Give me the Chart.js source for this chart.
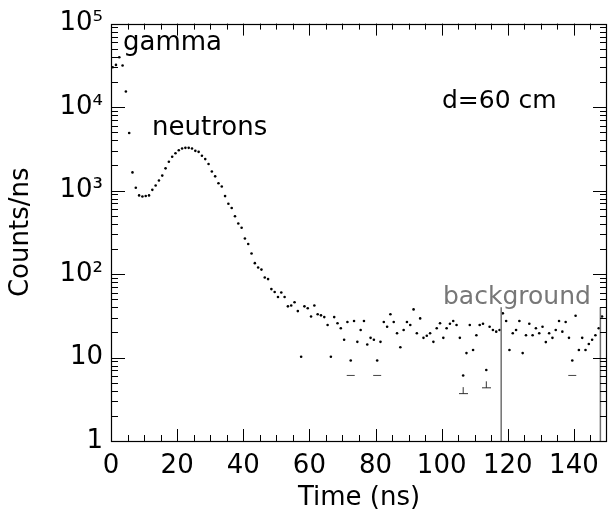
<!DOCTYPE html>
<html>
<head>
<meta charset="utf-8">
<title>Counts/ns vs time, d=60 cm</title>
<script src="https://cdn.jsdelivr.net/npm/chart.js@4.4.1/dist/chart.umd.min.js"></script>
<style>
  html, body { margin: 0; padding: 0; background: #fff; }
  canvas { display: block; }
</style>
</head>
<body>
<canvas id="tof" width="612" height="521"></canvas>
<script>
// counts per ns, one value per 1 ns bin starting at t = 0
const counts = [
  30000, 32000, 39500, 31500, 15400, 4900, 1650, 1080, 875, 850,
  860, 875, 1020, 1150, 1320, 1510, 1845, 2215, 2540, 2800,
  3040, 3190, 3250, 3250, 3190, 2990, 2910, 2610, 2380, 2080,
  1690, 1480, 1225, 1120, 858, 695, 618, 492, 403, 358,
  267, 229, 176, 135, 120, 113, 91, 87, 66, 61,
  53, 60, 53, 41, 42, 46, 36, 10.2, 41, 39,
  31, 42, 33, 32, 30.5, 24.5, 10.2, 30.5, 25.7, 22.4,
  16.3, 26.6, 9.2, 27.4, 15.4, 21.4, 27.4, 14.3, 17.2, 16.3,
  9.2, 15.4, 26.6, 23.4, 33, 26.6, 19.5, 13.3, 21.4, 26.6,
  24.5, 37.7, 19.5, 29.4, 17.2, 18.2, 19.5, 15.4, 22.4, 25.7,
  17.2, 22.4, 25.4, 27.4, 24.5, 17.2, 6.1, 11.3, 24.5, 12.3,
  18.5, 24.5, 25.4, 7.1, 23.4, 21.4, 20.4, 21.4, 33.8, 27.4,
  12.3, 19.5, 21.4, 27.4, 11.3, 18.5, 25.4, 18.5, 22.4, 19.5,
  23.4, 15.3, 19.5, 17.2, 21.4, 27.4, 20.4, 26.6, 17.2, 9.2,
  31.6, 12.3, 17.2, 12.3, 14.5, 16.3, 18.5, 22.4, 31
];
const binCenters = counts.map((c, i) => i + 0.5);

// lower error bar ends that show in the figure
const capTimes = [72.5, 80.5, 139.5];
const capLow = [6.1, 6.1, 6.1];
const stemTimes = [106.5, 113.5];
const stemLow = [3.75, 4.4];

// background window
const bgEdges = [118, 148];
const bgTop = 40;

const xTicks = [0, 20, 40, 60, 80, 100, 120, 140];
const yDecades = [1, 10, 100, 1000, 10000, 100000];
const yTickLabels = ['1', '10', '10\u00b2', '10\u00b3', '10\u2074', '10\u2075'];

const FONT = 'DejaVu Sans';

// little "⊥" mark for the error ends with a stem
function makeStemMark() {
  const c = document.createElement('canvas');
  c.width = 9; c.height = 14;
  const g = c.getContext('2d');
  g.fillStyle = '#333';
  g.fillRect(0, 7, 9, 1);
  g.fillRect(4, 1, 1, 7);
  return c;
}

const frame = {
  id: 'frame',
  afterDatasetsDraw(chart) {
    const { ctx, chartArea: a, scales } = chart;
    const x = scales.x, y = scales.y;
    ctx.save();
    ctx.strokeStyle = '#000';
    ctx.lineWidth = 1;
    ctx.beginPath();
    for (let t = 5; t < 150; t += 5) {
      const px = Math.round(x.getPixelForValue(t)) + 0.5;
      const len = t % 20 === 0 ? 12 : 6;
      ctx.moveTo(px, a.bottom); ctx.lineTo(px, a.bottom - len);
      ctx.moveTo(px, a.top); ctx.lineTo(px, a.top + len);
    }
    for (let d = 1; d < 100000; d *= 10) {
      for (let m = 1; m <= 9; m++) {
        if (d === 1 && m === 1) continue;
        const py = Math.round(y.getPixelForValue(d * m)) + 0.5;
        const len = m === 1 ? 14 : 7;
        ctx.moveTo(a.left, py); ctx.lineTo(a.left + len, py);
        ctx.moveTo(a.right, py); ctx.lineTo(a.right - len, py);
      }
    }
    ctx.stroke();
    ctx.lineWidth = 1.2;
    ctx.strokeRect(Math.round(a.left) + 0.5, Math.round(a.top) + 0.5,
      Math.round(a.right - a.left) - 1, Math.round(a.bottom - a.top));

    // text labels in the plot
    ctx.textBaseline = 'alphabetic';
    ctx.textAlign = 'left';
    ctx.fillStyle = '#000';
    ctx.font = '26px "' + FONT + '"';
    ctx.fillText('gamma', a.left + 12, a.top + 26);
    ctx.fillText('neutrons', a.left + 41, a.top + 111);
    ctx.font = '25px "' + FONT + '"';
    ctx.fillText('d=60 cm', a.left + 331, a.top + 84);
    ctx.fillStyle = '#777';
    ctx.fillText('background', a.left + 332, a.top + 280);
    ctx.restore();
  }
};

new Chart(document.getElementById('tof'), {
  type: 'scatter',
  data: {
    datasets: [
      {
        type: 'line',
        data: [{ x: bgEdges[0], y: 1 }, { x: bgEdges[0], y: bgTop }],
        borderColor: '#707070', borderWidth: 1.5, pointRadius: 0
      },
      {
        type: 'line',
        data: [{ x: bgEdges[1], y: 1 }, { x: bgEdges[1], y: bgTop }],
        borderColor: '#707070', borderWidth: 1.5, pointRadius: 0
      },
      {
        data: capTimes.map((t, i) => ({ x: t, y: capLow[i] })),
        pointStyle: 'line', pointRadius: 4, borderColor: '#444', borderWidth: 1
      },
      {
        data: stemTimes.map((t, i) => ({ x: t, y: stemLow[i] })),
        pointStyle: makeStemMark(), pointRadius: 4
      },
      {
        data: binCenters.map((t, i) => ({ x: t, y: counts[i] })),
        pointStyle: 'circle', pointRadius: 1.3, borderWidth: 0,
        backgroundColor: '#000'
      }
    ]
  },
  options: {
    responsive: false,
    animation: false,
    events: [],
    layout: { padding: { top: 20, right: 1, left: 0, bottom: 0 } },
    plugins: { legend: { display: false }, tooltip: { enabled: false } },
    scales: {
      x: {
        type: 'linear', min: 0, max: 150,
        afterBuildTicks: s => { s.ticks = xTicks.map(v => ({ value: v })); },
        afterFit: s => { s.height = 80; },
        grid: { display: false, drawTicks: false },
        border: { display: false },
        ticks: { color: '#000', font: { family: FONT, size: 26 }, padding: 10, maxRotation: 0 },
        title: { display: true, text: 'Time (ns)', color: '#000',
          font: { family: FONT, size: 26 }, padding: { top: 7, bottom: 7 } }
      },
      y: {
        type: 'logarithmic', min: 1, max: 100000,
        afterBuildTicks: s => { s.ticks = yDecades.map(v => ({ value: v })); },
        afterFit: s => { s.width = 111; },
        grid: { display: false, drawTicks: false },
        border: { display: false },
        ticks: {
          color: '#000', font: { family: FONT, size: 26 }, padding: 8,
          callback: v => yTickLabels[yDecades.indexOf(v)]
        },
        title: { display: true, text: 'Counts/ns', color: '#000',
          font: { family: FONT, size: 26 }, padding: { top: 6, bottom: 6 } }
      }
    }
  },
  plugins: [frame]
});
</script>
</body>
</html>
